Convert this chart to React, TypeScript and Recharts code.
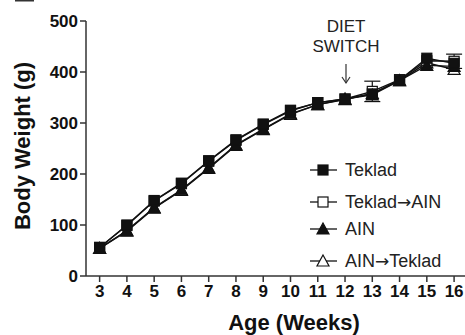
import {
  ComposedChart,
  Line,
  XAxis,
  YAxis,
  ErrorBar,
  Customized,
} from 'recharts';

const weeks = [3, 4, 5, 6, 7, 8, 9, 10, 11, 12, 13, 14, 15, 16];
const teklad = [56, 100, 148, 182, 226, 267, 298, 325, 340, 347, 357, 384, 427, 417];
const tekladAin = [56, 99, 147, 181, 225, 266, 297, 324, 340, 347, 362, 385, 422, 421];
const ain = [54, 89, 134, 169, 212, 257, 288, 318, 336, 347, 355, 383, 413, 411];
const ainTeklad = [54, 88, 133, 168, 211, 256, 287, 317, 336, 346, 358, 383, 418, 405];
const tekladAinErr = [null, null, null, null, null, null, null, null, null, null, 20, null, null, 14];
const yTicks = [0, 100, 200, 300, 400, 500];

const data = weeks.map((w, i) => ({
  week: w,
  teklad: teklad[i],
  tekladAin: tekladAin[i],
  ain: ain[i],
  ainTeklad: ainTeklad[i],
  err: tekladAinErr[i],
}));

const FONT = '"Liberation Sans", Arial, Helvetica, sans-serif';
const INK = '#111';

function Marker({ cx, cy, kind }: { cx: number; cy: number; kind: string }) {
  const s = 5;
  const fill = kind === 'sqOpen' || kind === 'triOpen' ? '#fff' : INK;
  if (kind === 'sq' || kind === 'sqOpen') {
    return <rect x={cx - s} y={cy - s} width={s * 2} height={s * 2} fill={fill} stroke={INK} strokeWidth={1.2} />;
  }
  return (
    <polygon
      points={`${cx},${cy - 6} ${cx + 6},${cy + 5} ${cx - 6},${cy + 5}`}
      fill={fill}
      stroke={INK}
      strokeWidth={1.2}
    />
  );
}

const dotFor = (kind: string) => (p: any) => (
  <Marker key={`${kind}-${p.index}`} cx={p.cx} cy={p.cy} kind={kind} />
);

const legendItems = [
  { label: ['Teklad'], kind: 'sq', y: 170 },
  { label: ['Teklad', 'AIN'], kind: 'sqOpen', y: 202 },
  { label: ['AIN'], kind: 'tri', y: 229 },
  { label: ['AIN', 'Teklad'], kind: 'triOpen', y: 261 },
];

function Extras() {
  return (
    <g fontFamily={FONT}>
      <rect x={15} y={0} width={19} height={1.5} fill="#333" />
      <text x={346} y={32} textAnchor="middle" fontSize={17} fill="#222">DIET</text>
      <text x={346} y={52} textAnchor="middle" fontSize={17} fill="#222">SWITCH</text>
      <line x1={346} y1={64} x2={346} y2={83} stroke="#333" strokeWidth={1.2} />
      <polyline points="342,77 346,83 350,77" fill="none" stroke="#333" strokeWidth={1.2} />
      <text
        x={22}
        y={146}
        transform="rotate(-90 22 146)"
        textAnchor="middle"
        dominantBaseline="central"
        fontSize={22}
        fontWeight="bold"
        fill={INK}
      >
        Body Weight (g)
      </text>
      <text x={294} y={330} textAnchor="middle" fontSize={22} fontWeight="bold" fill={INK}>
        Age (Weeks)
      </text>
      {legendItems.map((it) => (
        <g key={it.label.join('-')}>
          <line x1={310} y1={it.y} x2={337} y2={it.y} stroke={INK} strokeWidth={1.3} />
          <Marker cx={323} cy={it.y} kind={it.kind} />
          <text x={345} y={it.y} dominantBaseline="central" fontSize={18} fill="#222">
            {it.label[0]}
            {it.label.length > 1 && (
              <>
                <tspan fontFamily='"DejaVu Sans", sans-serif' fontSize={17}>→</tspan>
                {it.label[1]}
              </>
            )}
          </text>
        </g>
      ))}
    </g>
  );
}

export default function App() {
  const tickStyle = { fill: INK, fontSize: 17, fontWeight: 'bold', fontFamily: FONT };
  return (
    <div style={{ position: 'absolute', left: 0, top: 0, background: '#fff' }}>
      <ComposedChart width={465} height={335} data={data} margin={{ top: 21, right: 0, left: 0, bottom: 0 }}>
        <XAxis
          type="number"
          dataKey="week"
          domain={[2.5, 16.4]}
          ticks={weeks}
          allowDataOverflow
          height={59}
          tickSize={6}
          tickMargin={3}
          interval={0}
          stroke="#333"
          strokeWidth={1.5}
          tick={tickStyle}
        />
        <YAxis
          domain={[0, 500]}
          ticks={yTicks}
          width={86}
          tickSize={6}
          tickMargin={2}
          interval={0}
          stroke="#333"
          strokeWidth={1.5}
          tick={tickStyle}
        />
        <Line dataKey="ainTeklad" stroke={INK} strokeWidth={1.4} dot={dotFor('triOpen')} isAnimationActive={false} />
        <Line dataKey="tekladAin" stroke={INK} strokeWidth={1.4} dot={dotFor('sqOpen')} isAnimationActive={false}>
          <ErrorBar dataKey="err" width={8} stroke={INK} strokeWidth={1.2} />
        </Line>
        <Line dataKey="ain" stroke={INK} strokeWidth={1.4} dot={dotFor('tri')} isAnimationActive={false} />
        <Line dataKey="teklad" stroke={INK} strokeWidth={1.4} dot={dotFor('sq')} isAnimationActive={false} />
        <Customized component={Extras} />
      </ComposedChart>
    </div>
  );
}
